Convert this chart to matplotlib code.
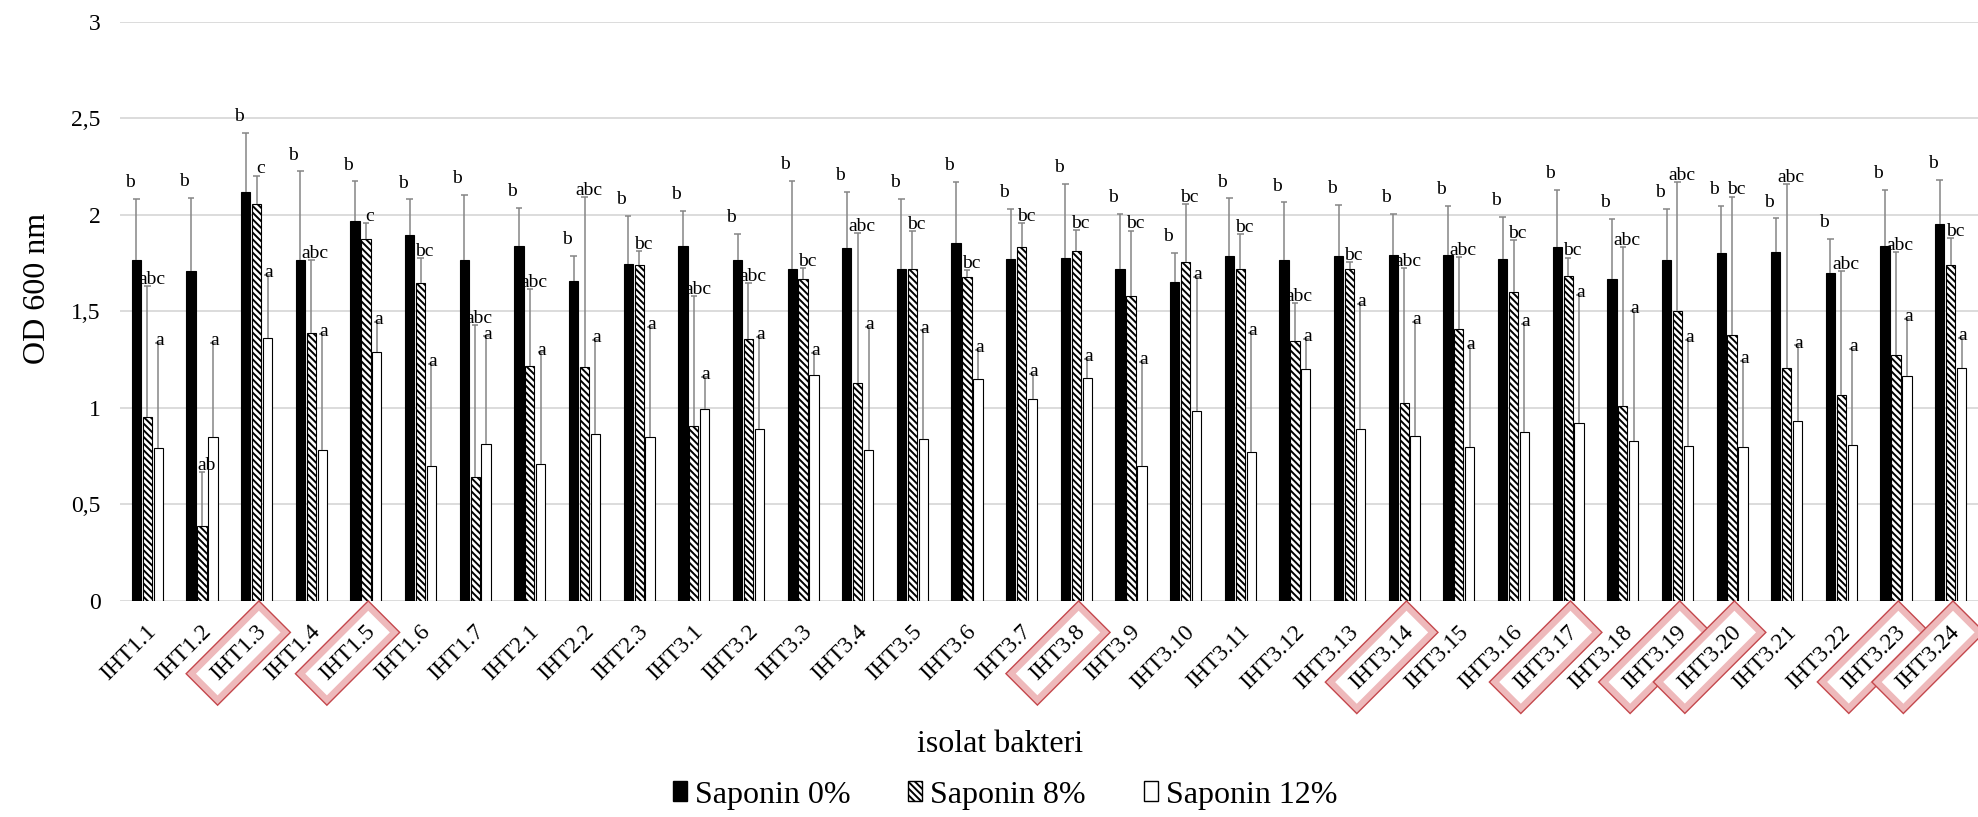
import numpy as np
import matplotlib
matplotlib.use("Agg")
import matplotlib.pyplot as plt
import matplotlib.patheffects as pe
from matplotlib.patches import Patch
from matplotlib.transforms import ScaledTranslation, blended_transform_factory

plt.rcParams["font.family"] = ["Liberation Serif", "DejaVu Serif"]
plt.rcParams["hatch.linewidth"] = 1.4

# ---- data -------------------------------------------------------------
isolates = ["IHT1.1", "IHT1.2", "IHT1.3", "IHT1.4", "IHT1.5", "IHT1.6", "IHT1.7",
            "IHT2.1", "IHT2.2", "IHT2.3",
            "IHT3.1", "IHT3.2", "IHT3.3", "IHT3.4", "IHT3.5", "IHT3.6", "IHT3.7",
            "IHT3.8", "IHT3.9", "IHT3.10", "IHT3.11", "IHT3.12", "IHT3.13",
            "IHT3.14", "IHT3.15", "IHT3.16", "IHT3.17", "IHT3.18", "IHT3.19",
            "IHT3.20", "IHT3.21", "IHT3.22", "IHT3.23", "IHT3.24"]

highlighted = ["IHT1.3", "IHT1.5", "IHT3.8", "IHT3.14", "IHT3.17",
               "IHT3.19", "IHT3.20", "IHT3.23", "IHT3.24"]

saponin_0 = [1.765, 1.71, 2.12, 1.765, 1.969, 1.895, 1.765,
             1.84, 1.656, 1.745,
             1.84, 1.765, 1.717, 1.826, 1.722, 1.852, 1.772,
             1.779, 1.717, 1.65, 1.786, 1.765, 1.786,
             1.791, 1.791, 1.77, 1.834, 1.67, 1.765,
             1.80, 1.807, 1.70, 1.84, 1.955]
sd_0 = [0.32, 0.38, 0.305, 0.46, 0.205, 0.185, 0.34,
        0.195, 0.13, 0.25,
        0.18, 0.135, 0.46, 0.295, 0.36, 0.32, 0.26,
        0.38, 0.29, 0.155, 0.30, 0.30, 0.265,
        0.215, 0.255, 0.22, 0.295, 0.31, 0.265,
        0.245, 0.175, 0.175, 0.29, 0.225]

saponin_8 = [0.953, 0.387, 2.054, 1.39, 1.876, 1.645, 0.639,
             1.218, 1.212, 1.739,
             0.905, 1.359, 1.67, 1.13, 1.717, 1.676, 1.834,
             1.812, 1.579, 1.757, 1.717, 1.347, 1.722,
             1.026, 1.408, 1.601, 1.684, 1.009, 1.501,
             1.375, 1.206, 1.067, 1.273, 1.741]
sd_8 = [0.68, 0.28, 0.15, 0.375, 0.08, 0.13, 0.79,
        0.40, 0.88, 0.075,
        0.675, 0.29, 0.055, 0.775, 0.20, 0.04, 0.125,
        0.11, 0.34, 0.30, 0.185, 0.195, 0.035,
        0.70, 0.375, 0.27, 0.095, 0.825, 0.67,
        0.72, 0.955, 0.64, 0.535, 0.14]

saponin_12 = [0.79, 0.85, 1.363, 0.78, 1.287, 0.70, 0.81,
              0.707, 0.865, 0.85,
              0.993, 0.891, 1.169, 0.781, 0.836, 1.15, 1.047,
              1.157, 0.70, 0.984, 0.769, 1.199, 0.89,
              0.855, 0.798, 0.876, 0.919, 0.829, 0.802,
              0.795, 0.933, 0.808, 1.164, 1.206]
sd_12 = [0.545, 0.485, 0.325, 0.605, 0.16, 0.525, 0.56,
         0.58, 0.485, 0.57,
         0.165, 0.475, 0.115, 0.64, 0.565, 0.15, 0.13,
         0.095, 0.54, 0.695, 0.62, 0.16, 0.65,
         0.59, 0.52, 0.56, 0.665, 0.675, 0.55,
         0.45, 0.39, 0.495, 0.295, 0.155]

letters_0 = ["b"] * len(isolates)
letters_8 = ["abc", "ab", "c", "abc", "c", "bc", "abc",
             "abc", "abc", "bc",
             "abc", "abc", "bc", "abc", "bc", "bc", "bc",
             "bc", "bc", "bc", "bc", "abc", "bc",
             "abc", "abc", "bc", "bc", "abc", "abc",
             "bc", "abc", "abc", "abc", "bc"]
letters_12 = ["a"] * len(isolates)

series_names = ["Saponin 0%", "Saponin 8%", "Saponin 12%"]
yticks = [0, 0.5, 1, 1.5, 2, 2.5, 3]

# ---- figure -----------------------------------------------------------
W, H = 1978, 817
fig = plt.figure(figsize=(W / 100, H / 100), dpi=100)
ax = fig.add_axes([120 / W, (H - 600.7) / H, 1858 / W, (600.7 - 22) / H])

x = np.arange(len(isolates))
bw = 0.17
offsets = [-0.2, 0.0, 0.2]
hatch8 = "\\\\\\\\\\"

ax.bar(x + offsets[0], saponin_0, bw, color="black", edgecolor="black",
       linewidth=0.8, zorder=3)
ax.bar(x + offsets[1], saponin_8, bw, color="white", edgecolor="black",
       hatch=hatch8, linewidth=0.8, zorder=3)
ax.bar(x + offsets[2], saponin_12, bw, color="white", edgecolor="black",
       linewidth=0.8, zorder=3)

# upper error bars with caps
err_color = "#858585"
cap = 0.06
for off, vals, sds in zip(offsets, [saponin_0, saponin_8, saponin_12],
                          [sd_0, sd_8, sd_12]):
    vals = np.asarray(vals)
    tops = vals + np.asarray(sds)
    ax.vlines(x + off, vals, tops, color=err_color, lw=1.1, zorder=4)
    ax.hlines(tops, x + off - cap, x + off + cap, color=err_color, lw=1.1, zorder=4)

# significance letters above the error bars
label_style = [(-5, 8.5), (3, 1.5), (1, -1.5)]
for off, vals, sds, lets, (dx, dy) in zip(offsets,
                                          [saponin_0, saponin_8, saponin_12],
                                          [sd_0, sd_8, sd_12],
                                          [letters_0, letters_8, letters_12],
                                          label_style):
    for i in range(len(isolates)):
        ax.annotate(lets[i], (x[i] + off, vals[i] + sds[i]), xytext=(dx, dy),
                    textcoords="offset points", ha="center", va="baseline",
                    fontsize=14, zorder=5, annotation_clip=False)

ax.set_xlim(-0.5, len(isolates) - 0.5)
ax.set_ylim(0, 3)
ax.set_yticks(yticks)
ax.set_yticklabels([f"{v:g}".replace(".", ",") for v in yticks])
ax.tick_params(axis="y", length=0, pad=14, labelsize=17)
ax.set_xticks([])
ax.grid(axis="y", color="#d9d9d9", lw=1.3, zorder=0)
ax.set_axisbelow(True)
for s in ax.spines.values():
    s.set_visible(False)

# rotated category labels, some framed with a pink bevelled border
lab_trans = (blended_transform_factory(ax.transData, ax.transAxes)
             + ScaledTranslation(6 / 100, -28 / 100, fig.dpi_scale_trans))
for i, name in enumerate(isolates):
    t = ax.text(x[i], 0, name, rotation=45, rotation_mode="anchor",
                ha="right", va="center", fontsize=17, transform=lab_trans,
                clip_on=False, zorder=6)
    if name in highlighted:
        t.set_bbox(dict(boxstyle="square,pad=0.56", mutation_aspect=0.6,
                        fc="white", ec="#eeb9bb", lw=4.5))
        t.get_bbox_patch().set_path_effects(
            [pe.Stroke(linewidth=6.5, foreground="#c4474c"), pe.Normal()])

fig.text(38 / W, 1 - 288 / H, "OD 600 nm", rotation=90, ha="center",
         va="center", fontsize=23)
fig.text(1000 / W, 1 - 744 / H, "isolat bakteri", ha="center", va="center",
         fontsize=23)

handles = [Patch(facecolor="black", edgecolor="black"),
           Patch(facecolor="white", edgecolor="black", hatch=hatch8),
           Patch(facecolor="white", edgecolor="black")]
fig.legend(handles, series_names, loc="center", ncol=3, frameon=False,
           bbox_to_anchor=(1005 / W, 1 - 795 / H), fontsize=23,
           handlelength=0.45, handleheight=0.6, handletextpad=0.25,
           columnspacing=1.8)

fig.savefig("out.png", dpi=100)
